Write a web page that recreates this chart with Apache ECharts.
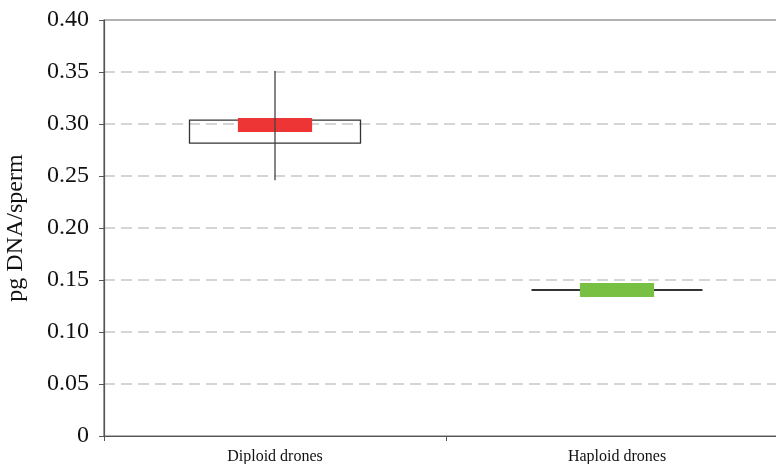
<!DOCTYPE html>
<html><head><meta charset="utf-8">
<script src="https://cdn.jsdelivr.net/npm/echarts@6/dist/echarts.min.js"></script>
<style>html,body{margin:0;padding:0;background:#fff}#c{width:776px;height:464px}</style>
</head><body><div id="c"></div>
<script>
var categories = ['Diploid drones', 'Haploid drones'];
var whiskerLow = [0.246, 0.1404];
var boxLow = [0.2817, 0.1404];
var boxHigh = [0.3038, 0.1404];
var whiskerHigh = [0.351, 0.1404];
var meanLow = [0.2923, 0.1337];
var meanHigh = [0.3058, 0.147];
var fillColors = ['#ee3535', '#77c043'];
var yTicks = [0, 0.05, 0.10, 0.15, 0.20, 0.25, 0.30, 0.35, 0.40];

var seriesData = categories.map(function (c, i) {
  return [i, whiskerLow[i], boxLow[i], boxHigh[i], whiskerHigh[i], meanLow[i], meanHigh[i]];
});

var chart = echarts.init(document.getElementById('c'));
var serif = '"Liberation Serif", "DejaVu Serif", serif';
chart.setOption({
  animation: false,
  grid: { left: 104, top: 20, bottom: 28, width: 684, outerBoundsMode: 'none', containLabel: false,
    show: true, borderColor: '#666', borderWidth: 1.2, backgroundColor: 'transparent' },
  xAxis: {
    type: 'category', data: categories,
    axisLine: { lineStyle: { color: '#555', width: 1.2 } },
    axisTick: { show: true, length: 5, lineStyle: { color: '#555' } },
    axisLabel: { fontFamily: serif, fontSize: 16, color: '#111', margin: 13 },
    splitLine: { show: false }
  },
  yAxis: {
    type: 'value', min: 0, max: 0.4, interval: 0.05,
    name: 'pg DNA/sperm', nameLocation: 'middle', nameGap: 76,
    nameTextStyle: { fontFamily: serif, fontSize: 24, color: '#111' },
    axisLine: { show: true, lineStyle: { color: '#555', width: 1.2 } },
    axisTick: { show: true, length: 5, lineStyle: { color: '#555' } },
    axisLabel: { fontFamily: serif, fontSize: 24, color: '#111', margin: 15,
      formatter: function (v) { return v === 0 ? '0' : v.toFixed(2); } },
    splitLine: { show: true, showMinLine: false, showMaxLine: false, lineStyle: { color: '#c8c8c8', width: 1.6, type: [11, 6] } }
  },
  series: [{
    type: 'custom',
    data: seriesData,
    encode: { x: 0, y: [1, 2, 3, 4, 5, 6] },
    renderItem: function (params, api) {
      var x = api.value(0);
      var band = api.size([1, 0])[0];
      var boxW = band * 0.5, meanW = band * 0.217;
      var pWL = api.coord([x, api.value(1)]);
      var pBL = api.coord([x, api.value(2)]);
      var pBH = api.coord([x, api.value(3)]);
      var pWH = api.coord([x, api.value(4)]);
      var pML = api.coord([x, api.value(5)]);
      var pMH = api.coord([x, api.value(6)]);
      var cx = pBL[0];
      var idx = params.dataIndex;
      var children = [];
      var boxH = pBL[1] - pBH[1];
      if (boxH > 0.5) {
        children.push({ type: 'rect', shape: { x: cx - boxW / 2, y: pBH[1], width: boxW, height: boxH },
          style: { fill: 'none', stroke: '#333', lineWidth: 1.3 } });
      } else {
        children.push({ type: 'line', shape: { x1: cx - boxW / 2, y1: pBL[1], x2: cx + boxW / 2, y2: pBL[1] },
          style: { stroke: '#333', lineWidth: 2 } });
      }
      children.push({ type: 'rect', shape: { x: cx - meanW / 2, y: pMH[1], width: meanW, height: pML[1] - pMH[1] },
        style: { fill: fillColors[idx], stroke: null } });
      if (pWL[1] - pWH[1] > 0.5) {
        children.push({ type: 'line', shape: { x1: cx, y1: pWH[1], x2: cx, y2: pWL[1] },
          style: { stroke: '#444', lineWidth: 1.3 } });
      }
      return { type: 'group', children: children };
    }
  }]
});
</script></body></html>
